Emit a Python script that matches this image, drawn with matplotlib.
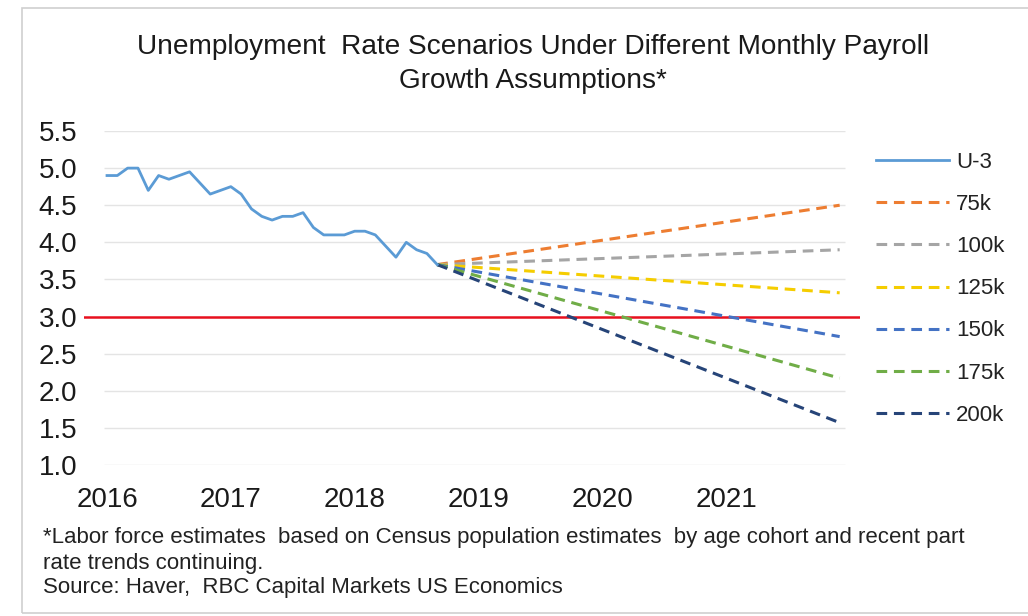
import matplotlib
matplotlib.use("Agg")
import matplotlib.pyplot as plt
from matplotlib.patches import Rectangle
from matplotlib.lines import Line2D

plt.rcParams['font.family'] = ['Liberation Sans', 'DejaVu Sans']

# Monthly U-3 unemployment rate, Jan 2016 - Sep 2018 (%)
u3_months = list(range(0, 33))
u3_values = [4.9, 4.9, 5.0, 5.0, 4.7, 4.9, 4.85, 4.9, 4.95, 4.8, 4.65, 4.7,
             4.75, 4.65, 4.45, 4.35, 4.3, 4.35, 4.35, 4.4, 4.2, 4.1, 4.1, 4.1,
             4.15, 4.15, 4.1, 3.95, 3.8, 4.0, 3.9, 3.85, 3.7]

# Scenario paths: from the last observed month (Sep 2018) to Dec 2021
scenario_months = [32, 71]
scenario_labels = ['75k', '100k', '125k', '150k', '175k', '200k']
scenario_start = [3.7, 3.7, 3.7, 3.7, 3.7, 3.7]
scenario_end = [4.5, 3.9, 3.32, 2.73, 2.17, 1.57]
scenario_colors = ['#ED7D31', '#A5A5A5', '#F5CD00', '#4472C4', '#70AD47', '#264478']

year_labels = ['2016', '2017', '2018', '2019', '2020', '2021']
year_ticks = [0, 12, 24, 36, 48, 60]
y_ticks = [1.0, 1.5, 2.0, 2.5, 3.0, 3.5, 4.0, 4.5, 5.0, 5.5]
threshold = 3.0

W, H = 1028, 616
fig = plt.figure(figsize=(W / 100, H / 100), dpi=100)

# outer frame
fig.patches.append(Rectangle((22 / W, 1 - 613 / H), (1040 - 22) / W, (613 - 8) / H,
                             transform=fig.transFigure, fill=False,
                             edgecolor='#cfcfcf', linewidth=1.2, zorder=0))

ax = fig.add_axes([84 / W, 1 - 465 / H, (860 - 84) / W, (465 - 131) / H])
ax.set_xlim(-2.23, 72.97)
ax.set_ylim(1.0, 5.5)
for s in ax.spines.values():
    s.set_visible(False)

# light horizontal gridlines
ax.hlines(y_ticks, -0.3, 71.5, colors='#e4e4e4', linewidth=1.0, zorder=0)
# target line
ax.axhline(threshold, color='#E8101E', linewidth=1.8, zorder=1)

ax.plot(u3_months, u3_values, color='#5B9BD5', linewidth=2.0, zorder=3)
for lab, s0, s1, c in zip(scenario_labels, scenario_start, scenario_end, scenario_colors):
    ax.plot(scenario_months, [s0, s1], color=c, linewidth=2.2,
            linestyle=(0, (3.5, 2.2)), zorder=2)

ax.set_yticks(y_ticks)
ax.set_yticklabels([f'{v:.1f}' for v in y_ticks])
ax.set_xticks(year_ticks)
ax.set_xticklabels(year_labels)
ax.tick_params(axis='both', length=0, labelsize=20, colors='#1a1a1a')
ax.tick_params(axis='y', pad=5)
ax.tick_params(axis='x', pad=16)

# legend
handles = [Line2D([], [], color='#5B9BD5', linewidth=2.0)]
for c in scenario_colors:
    handles.append(Line2D([], [], color=c, linewidth=2.2, linestyle=(0, (3.5, 2.2))))
labels = ['U-3'] + scenario_labels
fig.legend(handles, labels, loc='upper left', bbox_to_anchor=(856 / W, 1 - 132 / H),
           frameon=False, fontsize=16, handlelength=3.3, handletextpad=0.3,
           labelspacing=0.95, labelcolor='#222222')

fig.text(533 / W, 1 - 47 / H,
         'Unemployment  Rate Scenarios Under Different Monthly Payroll',
         ha='center', va='center', fontsize=20.2, color='#1a1a1a')
fig.text(533 / W, 1 - 81 / H, 'Growth Assumptions*',
         ha='center', va='center', fontsize=20.2, color='#1a1a1a')

fig.text(43 / W, 1 - 538 / H,
         '*Labor force estimates  based on Census population estimates  by age cohort and recent part',
         ha='left', va='center', fontsize=16, color='#222222')
fig.text(43 / W, 1 - 563 / H, 'rate trends continuing.',
         ha='left', va='center', fontsize=16, color='#222222')
fig.text(43 / W, 1 - 587 / H, 'Source: Haver,  RBC Capital Markets US Economics',
         ha='left', va='center', fontsize=16, color='#222222')

fig.savefig('out.png', dpi=100, facecolor='white')
